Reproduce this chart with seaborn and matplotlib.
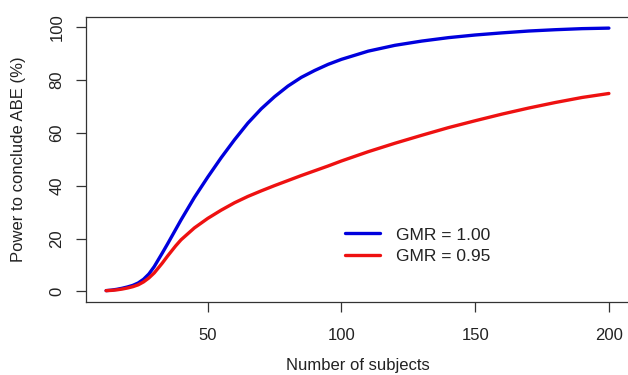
import matplotlib
matplotlib.use("Agg")
import matplotlib.pyplot as plt
import numpy as np
import pandas as pd
import seaborn as sns

# ---- data ----
n_subjects = [12, 14, 16, 18, 20, 22, 24, 26, 28, 30, 33, 35, 38, 40, 45, 50,
              55, 60, 65, 70, 75, 80, 85, 90, 95, 100, 110, 120, 130, 140,
              150, 160, 170, 180, 190, 200]
power_gmr_100 = [0.3, 0.5, 0.8, 1.2, 1.7, 2.3, 3.2, 4.6, 6.6, 9.4, 14.5, 18.0,
                 23.4, 27.0, 35.5, 43.2, 50.5, 57.3, 63.6, 69.0, 73.6, 77.6,
                 80.9, 83.5, 85.8, 87.7, 90.8, 93.0, 94.6, 95.9, 96.9, 97.7,
                 98.4, 98.9, 99.3, 99.5]
power_gmr_095 = [0.3, 0.4, 0.6, 0.9, 1.3, 1.8, 2.5, 3.6, 5.1, 7.0, 10.7, 13.4,
                 17.2, 19.5, 24.0, 27.6, 30.7, 33.5, 35.9, 38.0, 40.0, 41.9,
                 43.8, 45.6, 47.4, 49.3, 52.8, 56.0, 59.0, 61.9, 64.5, 67.0,
                 69.3, 71.4, 73.3, 74.8]
series_labels = ["GMR = 1.00", "GMR = 0.95"]
series_colors = ["#0000DD", "#EE1111"]
x_ticks = [50, 100, 150, 200]
y_ticks = [0, 20, 40, 60, 80, 100]

df = pd.concat([
    pd.DataFrame({"n": n_subjects, "power": power_gmr_100, "GMR": series_labels[0]}),
    pd.DataFrame({"n": n_subjects, "power": power_gmr_095, "GMR": series_labels[1]}),
])

sns.set_style("white")
plt.rcParams["font.family"] = ["Liberation Sans", "DejaVu Sans"]
TXT = "#222222"
FS = 12

fig = plt.figure(figsize=(6.28, 3.75), dpi=100)
ax = fig.add_axes([86 / 628, 1 - 302 / 375, 543 / 628, 285 / 375])

sns.lineplot(data=df, x="n", y="power", hue="GMR", hue_order=series_labels,
             palette=dict(zip(series_labels, series_colors)), linewidth=2.4,
             ax=ax, legend=True)

ax.set_xlim(4.48, 207.52)
ax.set_ylim(-3.99, 103.7)
ax.set_xticks(x_ticks)
ax.set_yticks(y_ticks)
ax.set_yticklabels([str(v) for v in y_ticks], rotation=90, va="center")
ax.tick_params(axis="both", direction="out", length=7.5, width=0.9,
               color="#333333", labelsize=FS, labelcolor=TXT, pad=8,
               bottom=True, left=True)
ax.tick_params(axis="x", pad=11)
for s in ax.spines.values():
    s.set_visible(True)
    s.set_color("#333333")
    s.set_linewidth(0.9)

ax.set_xlabel("Number of subjects", fontsize=FS, color=TXT)
ax.set_ylabel("Power to conclude ABE (%)", fontsize=FS, color=TXT)
ax.xaxis.set_label_coords(0.5, -0.195)
ax.yaxis.set_label_coords(-0.11, 0.5)

leg = ax.legend(loc="center left", bbox_to_anchor=(0.449, 0.197), frameon=False,
                fontsize=12.5, handlelength=2.0, handletextpad=0.9,
                labelspacing=0.38)
for h in leg.get_lines():
    h.set_linewidth(2.4)
for t in leg.get_texts():
    t.set_color(TXT)

fig.savefig("out.png", dpi=100)
